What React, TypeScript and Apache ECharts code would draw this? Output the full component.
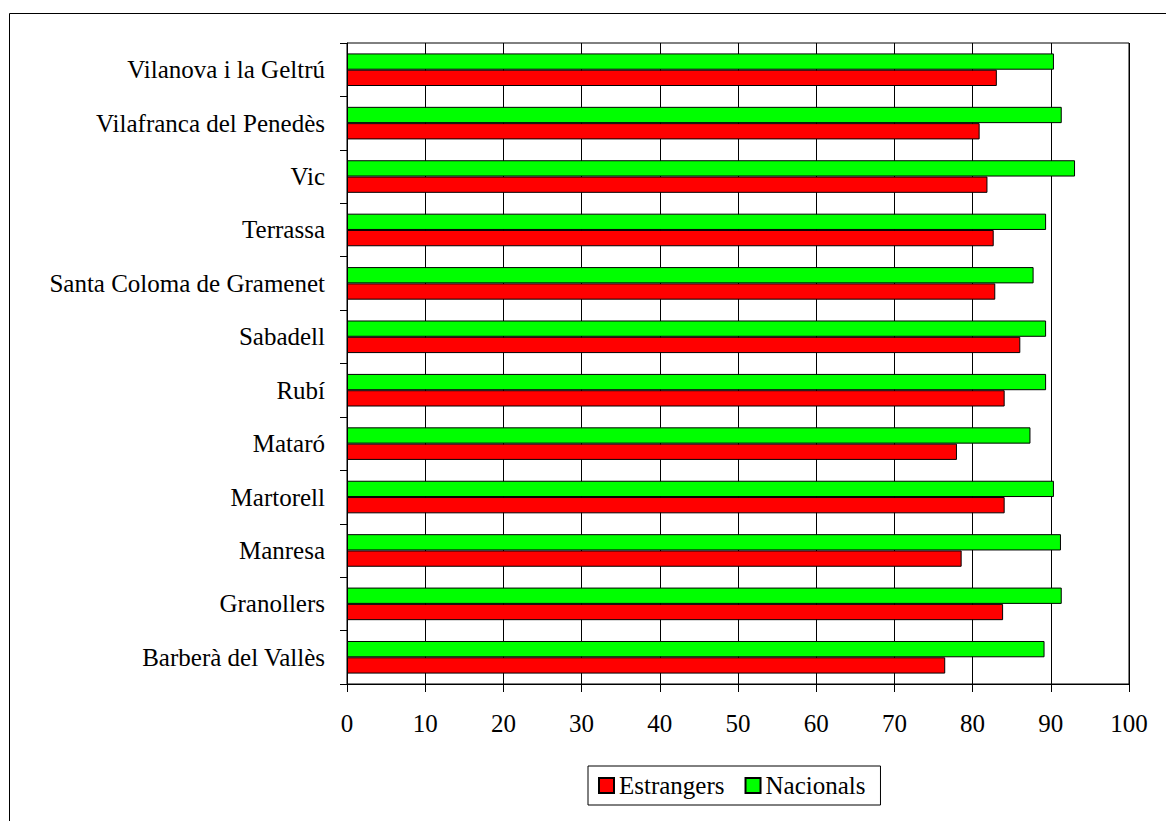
import React, { useEffect, useRef } from "react";
import * as echarts from "echarts";

const categories = [
  "Barberà del Vallès",
  "Granollers",
  "Manresa",
  "Martorell",
  "Mataró",
  "Rubí",
  "Sabadell",
  "Santa Coloma de Gramenet",
  "Terrassa",
  "Vic",
  "Vilafranca del Penedès",
  "Vilanova i la Geltrú",
];
const estrangers = [76.5, 83.9, 78.6, 84.1, 78.0, 84.1, 86.1, 82.9, 82.7, 81.9, 80.9, 83.1];
const nacionals = [89.2, 91.4, 91.3, 90.4, 87.4, 89.4, 89.4, 87.8, 89.4, 93.1, 91.4, 90.4];
const xTicks = { min: 0, max: 100, interval: 10 };

const FONT = "Liberation Serif";

export default function App() {
  const ref = useRef<HTMLDivElement>(null);
  useEffect(() => {
    if (!ref.current) return;
    const chart = echarts.init(ref.current, undefined, { renderer: "svg" });
    chart.setOption({
      animation: false,
      backgroundColor: "#ffffff",
      textStyle: { fontFamily: FONT, color: "#000" },
      graphic: [
        {
          type: "rect",
          shape: { x: 9.5, y: 13.5, width: 1400, height: 1000 },
          style: { fill: "none", stroke: "#000", lineWidth: 1 },
          silent: true,
          z: -10,
        },
      ],
      grid: {
        left: 347,
        right: 37,
        top: 43,
        bottom: 137,
        show: true,
        borderColor: "#000",
        borderWidth: 1,
        backgroundColor: "transparent",
      },
      legend: {
        left: 588,
        top: 766,
        orient: "horizontal",
        data: ["Estrangers", "Nacionals"],
        itemWidth: 15,
        itemHeight: 15,
        itemGap: 20,
        padding: [7, 15, 7, 10],
        borderColor: "#000",
        borderWidth: 1,
        backgroundColor: "#fff",
        textStyle: { fontFamily: FONT, fontSize: 25, color: "#000" },
        icon: "rect",
      },
      xAxis: {
        type: "value",
        min: xTicks.min,
        max: xTicks.max,
        interval: xTicks.interval,
        axisLine: { show: true, lineStyle: { color: "#000", width: 1 } },
        axisTick: { show: true, inside: false, length: 8, lineStyle: { color: "#000" } },
        axisLabel: { fontFamily: FONT, fontSize: 25, color: "#000", margin: 27 },
        splitLine: { show: true, lineStyle: { color: "#000", width: 1 } },
      },
      yAxis: {
        type: "category",
        data: categories,
        axisLine: { show: true, lineStyle: { color: "#000", width: 1 } },
        axisTick: { show: true, inside: false, length: 7, lineStyle: { color: "#000" } },
        axisLabel: { fontFamily: FONT, fontSize: 25, color: "#000", margin: 22 },
        splitLine: { show: false },
      },
      series: [
        {
          name: "Nacionals",
          type: "bar",
          data: nacionals,
          barWidth: "30.5%",
          barGap: "0%",
          itemStyle: { color: "#00ff00", borderColor: "#000", borderWidth: 1 },
        },
        {
          name: "Estrangers",
          type: "bar",
          data: estrangers,
          barWidth: "30.5%",
          barGap: "0%",
          itemStyle: { color: "#ff0000", borderColor: "#000", borderWidth: 1 },
        },
      ],
    });
    return () => chart.dispose();
  }, []);
  return (
    <div
      ref={ref}
      style={{ position: "fixed", left: 0, top: 0, width: 1166, height: 821, background: "#fff" }}
    />
  );
}
